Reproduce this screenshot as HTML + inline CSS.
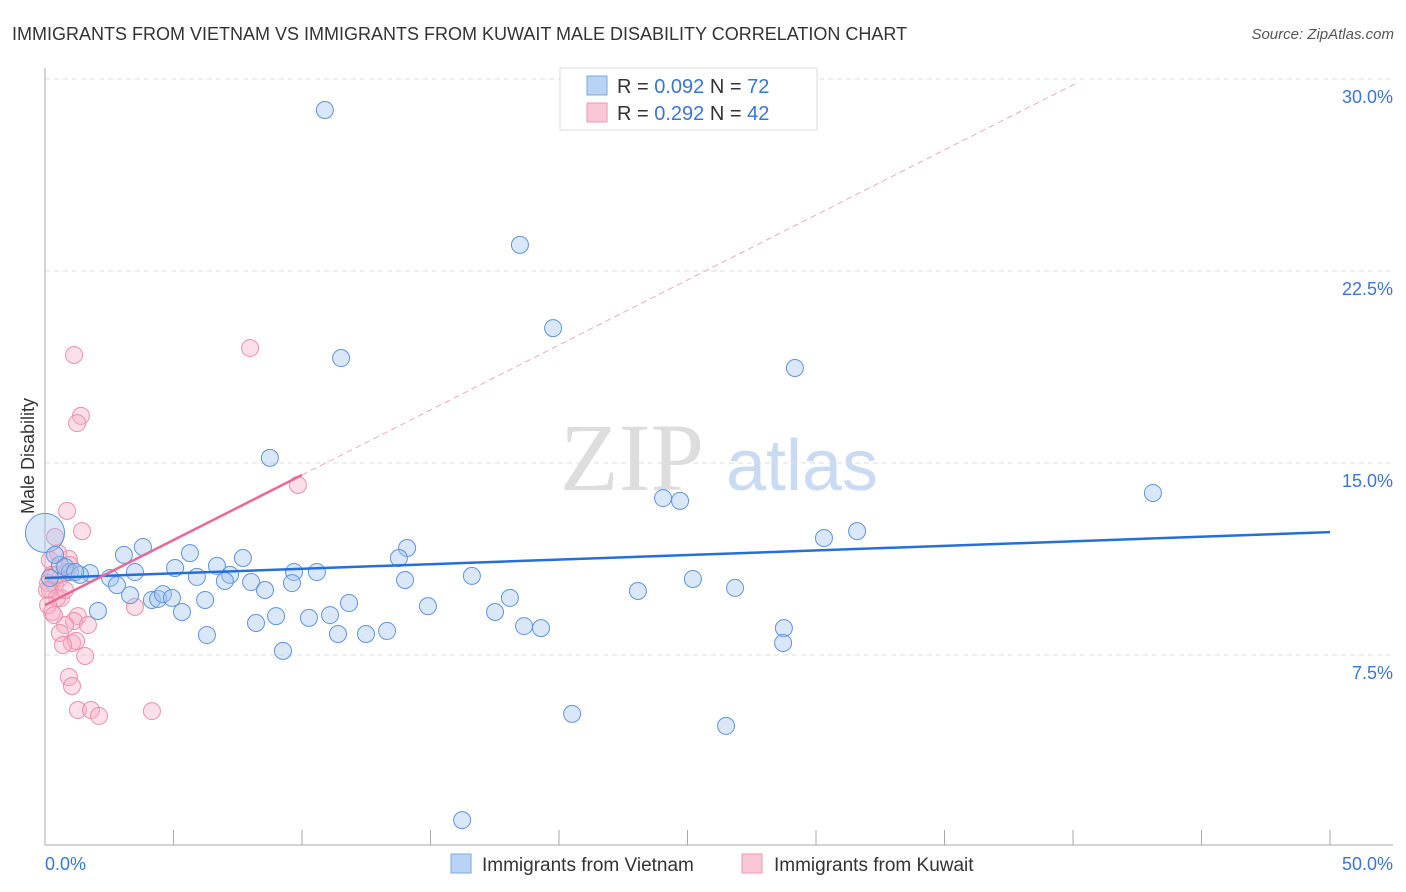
<!DOCTYPE html>
<html><head><meta charset="utf-8"><style>
body{margin:0;background:#fff;font-family:"Liberation Sans",sans-serif}
svg{display:block}
</style></head><body>
<svg id="chart" width="1406" height="892" xmlns="http://www.w3.org/2000/svg">
<text x="12" y="40" font-size="18" fill="#333">IMMIGRANTS FROM VIETNAM VS IMMIGRANTS FROM KUWAIT MALE DISABILITY CORRELATION CHART</text>
<text x="1394" y="39" font-size="15" fill="#555" font-style="italic" text-anchor="end">Source: ZipAtlas.com</text>
<g>
<text x="632" y="490" font-size="96" fill="#ddd" font-family="Liberation Serif,serif" text-anchor="middle">ZIP</text>
<text x="802" y="490" font-size="72" fill="#c9dbf2" text-anchor="middle">atlas</text>
</g>
<g id="grid"></g><g id="axes"></g><g id="marks"></g>
<text transform="translate(34,456) rotate(-90)" font-size="18" fill="#333" text-anchor="middle">Male Disability</text>
<g>
<rect x="560" y="68" width="257" height="62" fill="#fff" stroke="#ddd"/>
<rect x="587" y="76" width="20" height="19" fill="#b9d3f5" stroke="#7aa8e4"/>
<rect x="587" y="103" width="20" height="19" fill="#fac7d6" stroke="#ec9ab3"/>
<text x="617" y="93" font-size="20" fill="#333">R = <tspan fill="#3b74d6">0.092</tspan>   N = <tspan fill="#3b74d6">72</tspan></text>
<text x="617" y="120" font-size="20" fill="#333">R =  <tspan fill="#3b74d6">0.292</tspan>   N = <tspan fill="#3b74d6">42</tspan></text>
</g>
<g>
<rect x="451" y="854" width="20" height="19" fill="#b9d3f5" stroke="#7aa8e4"/>
<text x="482" y="871" font-size="19" fill="#333">Immigrants from Vietnam</text>
<rect x="742" y="854" width="20" height="19" fill="#fac7d6" stroke="#ec9ab3"/>
<text x="774" y="871" font-size="19" fill="#333">Immigrants from Kuwait</text>
</g>
</svg>
<script>
const yTicks=[7.5,15,22.5,30];
const yTickLabels=["7.5%","15.0%","22.5%","30.0%"];
const xTicks=[0,5,10,15,20,25,30,35,40,45,50];
const xEndLabels=["0.0%","50.0%"];
const blueX=[0,10.89,18.48,19.77,11.52,29.18,8.75,24.05,24.71,43.11,31.60,30.31,14.09,13.77,3.81,5.64,3.07,7.70,6.69,5.06,0.58,0.97,1.75,2.53,3.50,5.91,7.20,7.00,8.02,8.56,9.69,10.58,9.61,16.61,14.01,25.21,26.85,23.07,3.31,2.80,2.06,4.16,4.40,4.59,4.94,5.33,6.23,11.83,14.90,18.09,17.51,8.99,10.27,11.09,8.21,6.30,11.40,12.49,13.31,18.64,19.30,28.75,28.72,9.26,20.51,26.50,16.23,0.39,0.78,1.36,1.17,0.19];
const blueY=[12.27,28.79,23.52,20.27,19.10,18.71,15.20,13.63,13.52,13.83,12.34,12.07,11.68,11.29,11.72,11.48,11.41,11.29,10.98,10.90,11.02,10.74,10.70,10.51,10.74,10.55,10.63,10.39,10.35,10.04,10.74,10.74,10.31,10.59,10.43,10.47,10.12,10.00,9.84,10.23,9.22,9.65,9.69,9.88,9.73,9.18,9.65,9.53,9.41,9.73,9.18,9.02,8.95,9.06,8.75,8.28,8.32,8.32,8.44,8.63,8.55,8.55,7.97,7.66,5.20,4.73,1.05,11.41,10.94,10.63,10.74,10.51];
const blueSize=[2.3];
const pinkX=[1.13,7.98,1.40,1.25,9.84,0.86,1.44,0.39,0.93,0.19,0.51,0.27,0.58,0.12,0.39,0.19,0.62,3.50,0.27,1.28,1.13,0.78,1.67,0.58,1.05,1.21,0.70,1.56,0.93,1.05,1.28,1.79,2.10,4.16,0.43,0.82,0.08,0.47,0.12,0.78,0.35,0.97];
const pinkY=[19.22,19.49,16.84,16.56,14.14,13.13,12.34,12.11,11.25,11.21,11.48,10.63,10.51,10.31,10.23,10.04,9.73,9.38,9.18,9.02,8.83,8.67,8.67,8.36,7.97,8.05,7.89,7.46,6.64,6.29,5.35,5.35,5.12,5.31,10.63,10.74,10.04,9.73,9.45,10.04,9.06,11.02];
const blueTrend=[10.51,12.30]; // y at x=0 and x=50
const pinkTrend=[9.45,0.508];  // intercept, slope
const pinkSolidEnd=10, pinkDashEnd=40.16;
const X=v=>45+v*25.7, Y=v=>847-v*25.6;
const NS="http://www.w3.org/2000/svg";
function mk(p,t,a){const e=document.createElementNS(NS,t);for(const k in a)e.setAttribute(k,a[k]);p.appendChild(e);return e;}
const grid=document.getElementById('grid'),axes=document.getElementById('axes'),marks=document.getElementById('marks');
yTicks.forEach((t,i)=>{
 const l=mk(grid,'line',{x1:45,x2:1393,y1:Y(t),y2:Y(t),stroke:'#ddd','stroke-dasharray':'5,4'});
 
 
 const tx=mk(axes,'text',{x:1393,y:Y(t)+24,'font-size':18,fill:'#3b74d6','text-anchor':'end'});
 tx.textContent=yTickLabels[i];
 
 
});
let a=mk(axes,'line',{x1:45,x2:45,y1:68,y2:845,stroke:'#aaa'});


a=mk(axes,'line',{x1:45,x2:1393,y1:845,y2:845,stroke:'#aaa'});


xTicks.forEach(t=>{const l=mk(axes,'line',{x1:X(t),x2:X(t),y1:830,y2:845,stroke:'#aaa'});
 
 });
[[0,'start',45],[1,'end',1393]].forEach(([i,anc,x])=>{const t=mk(axes,'text',{x:x,y:870,'font-size':18,fill:'#3b74d6','text-anchor':anc});t.textContent=xEndLabels[i];
 
 });
pinkX.forEach((v,i)=>{const c=mk(marks,'circle',{cx:X(v),cy:Y(pinkY[i]),r:8.5,fill:'rgba(248,175,198,0.4)',stroke:'#ec8fac','stroke-width':1});
 
 });
blueX.forEach((v,i)=>{const s=blueSize[i]||1;const c=mk(marks,'circle',{cx:X(v),cy:Y(blueY[i]),r:8.5*s,fill:'rgba(160,196,240,0.4)',stroke:'#5e95dc','stroke-width':1});
 
 });
let t=mk(marks,'line',{x1:X(0),y1:Y(blueTrend[0]),x2:X(50),y2:Y(blueTrend[1]),stroke:'#2470d8','stroke-width':2.5});


t=mk(marks,'line',{x1:X(0),y1:Y(pinkTrend[0]),x2:X(pinkSolidEnd),y2:Y(pinkTrend[0]+pinkTrend[1]*pinkSolidEnd),stroke:'#e8689a','stroke-width':2.5});


t=mk(marks,'line',{x1:X(pinkSolidEnd),y1:Y(pinkTrend[0]+pinkTrend[1]*pinkSolidEnd),x2:X(pinkDashEnd),y2:Y(pinkTrend[0]+pinkTrend[1]*pinkDashEnd),stroke:'#eeaac0','stroke-width':1,'stroke-dasharray':'6,4'});


</script>
</body></html>
